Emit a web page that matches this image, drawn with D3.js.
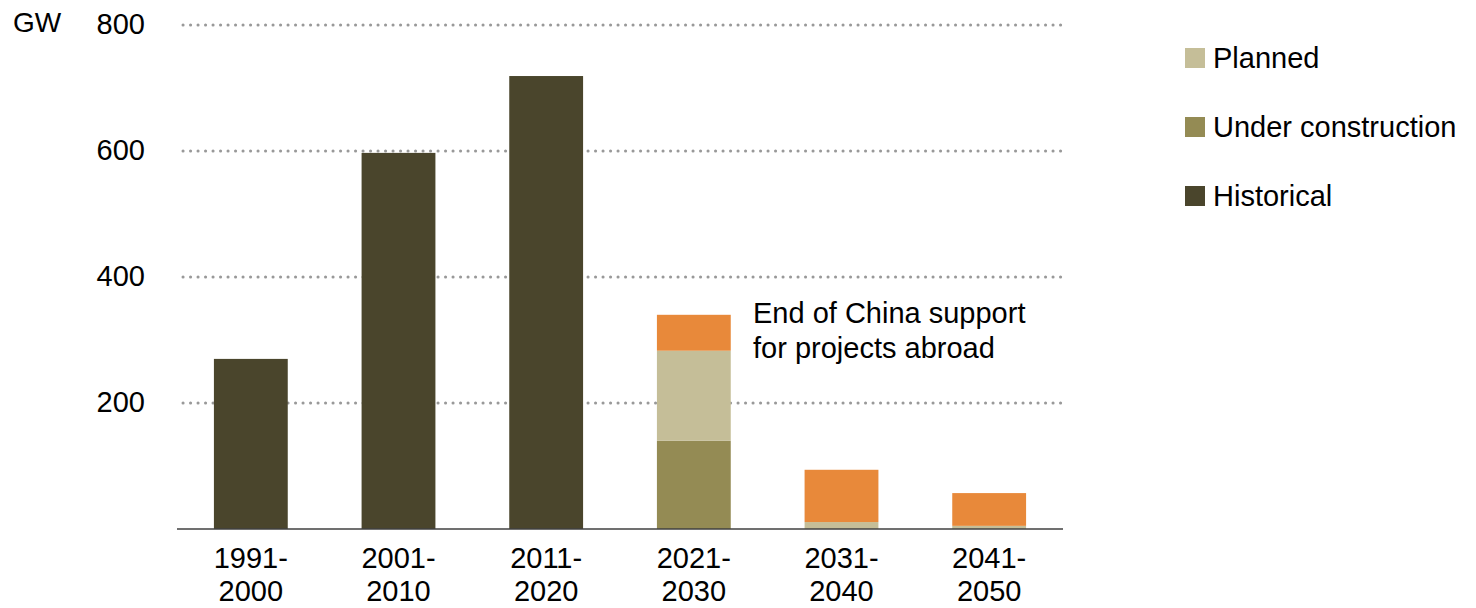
<!DOCTYPE html>
<html><head><meta charset="utf-8">
<script src="https://cdn.jsdelivr.net/npm/d3@7"></script>
<style>body{margin:0;background:#fff}svg{display:block;font-family:"Liberation Sans",Arial,sans-serif}</style>
</head><body><svg id="c" width="1476" height="608"></svg>
<script>
const categories = [["1991-","2000"],["2001-","2010"],["2011-","2020"],["2021-","2030"],["2031-","2040"],["2041-","2050"]];
const historical = [270, 597, 719, 0, 0, 0];
const underConstruction = [0, 0, 0, 140, 0, 0];
const planned = [0, 0, 0, 143, 11, 5];
const abroad = [0, 0, 0, 57, 83, 52];
const yTicks = [200, 400, 600, 800];
const seriesNames = ["Historical","Under construction","Planned","Abroad"];
const colors = {"Historical":"#4a452c","Under construction":"#948b54","Planned":"#c5be98","Abroad":"#e8893a"};
const legendItems = ["Planned","Under construction","Historical"];

const svg = d3.select("#c");
const x = d3.scaleBand().domain(categories.map(d=>d[0]+d[1])).range([177,1063]).paddingInner(0.5).paddingOuter(0.25);
const y = d3.scaleLinear().domain([0,800]).range([529,25]);
const FS = 29;

const rows = categories.map((c,i)=>({key:c[0]+c[1],"Historical":historical[i],"Under construction":underConstruction[i],"Planned":planned[i],"Abroad":abroad[i]}));
const stack = d3.stack().keys(seriesNames)(rows);

// gridlines
svg.append("g").selectAll("line").data(yTicks).join("line")
  .attr("x1",183).attr("x2",1068).attr("y1",d=>y(d)).attr("y2",d=>y(d))
  .attr("stroke","#999").attr("stroke-width",3).attr("stroke-dasharray","0.1 7.4").attr("stroke-linecap","round");

// y labels
svg.append("g").selectAll("text").data(yTicks).join("text")
  .attr("x",145).attr("y",d=>y(d)+9).attr("text-anchor","end").attr("font-size",FS).attr("fill","#000").text(d=>d);
svg.append("text").attr("x",13).attr("y",32).attr("font-size",28).text("GW");

// bars
svg.append("g").selectAll("g").data(stack).join("g").attr("fill",d=>colors[d.key])
  .selectAll("rect").data(d=>d).join("rect")
  .attr("x",d=>x(d.data.key)).attr("width",x.bandwidth())
  .attr("y",d=>y(d[1])).attr("height",d=>y(d[0])-y(d[1]));

// axis line
svg.append("line").attr("x1",177).attr("x2",1063).attr("y1",529).attr("y2",529).attr("stroke","#404040").attr("stroke-width",1.5);

// x labels
const xl = svg.append("g").selectAll("text").data(categories).join("text")
  .attr("text-anchor","middle").attr("font-size",FS).attr("x",d=>x(d[0]+d[1])+x.bandwidth()/2);
xl.append("tspan").attr("x",d=>x(d[0]+d[1])+x.bandwidth()/2).attr("y",568).text(d=>d[0]);
xl.append("tspan").attr("x",d=>x(d[0]+d[1])+x.bandwidth()/2).attr("y",601).text(d=>d[1]);

// annotation
const ann = svg.append("text").attr("font-size",FS).attr("x",753);
ann.append("tspan").attr("x",753).attr("y",323).text("End of China support");
ann.append("tspan").attr("x",753).attr("y",358).text("for projects abroad");

// legend
const lg = svg.append("g").selectAll("g").data(legendItems).join("g")
  .attr("transform",(d,i)=>`translate(1185,${48+i*69})`);
lg.append("rect").attr("width",20).attr("height",20).attr("fill",d=>colors[d]);
lg.append("text").attr("x",28).attr("y",20).attr("font-size",FS).text(d=>d);
</script></body></html>
